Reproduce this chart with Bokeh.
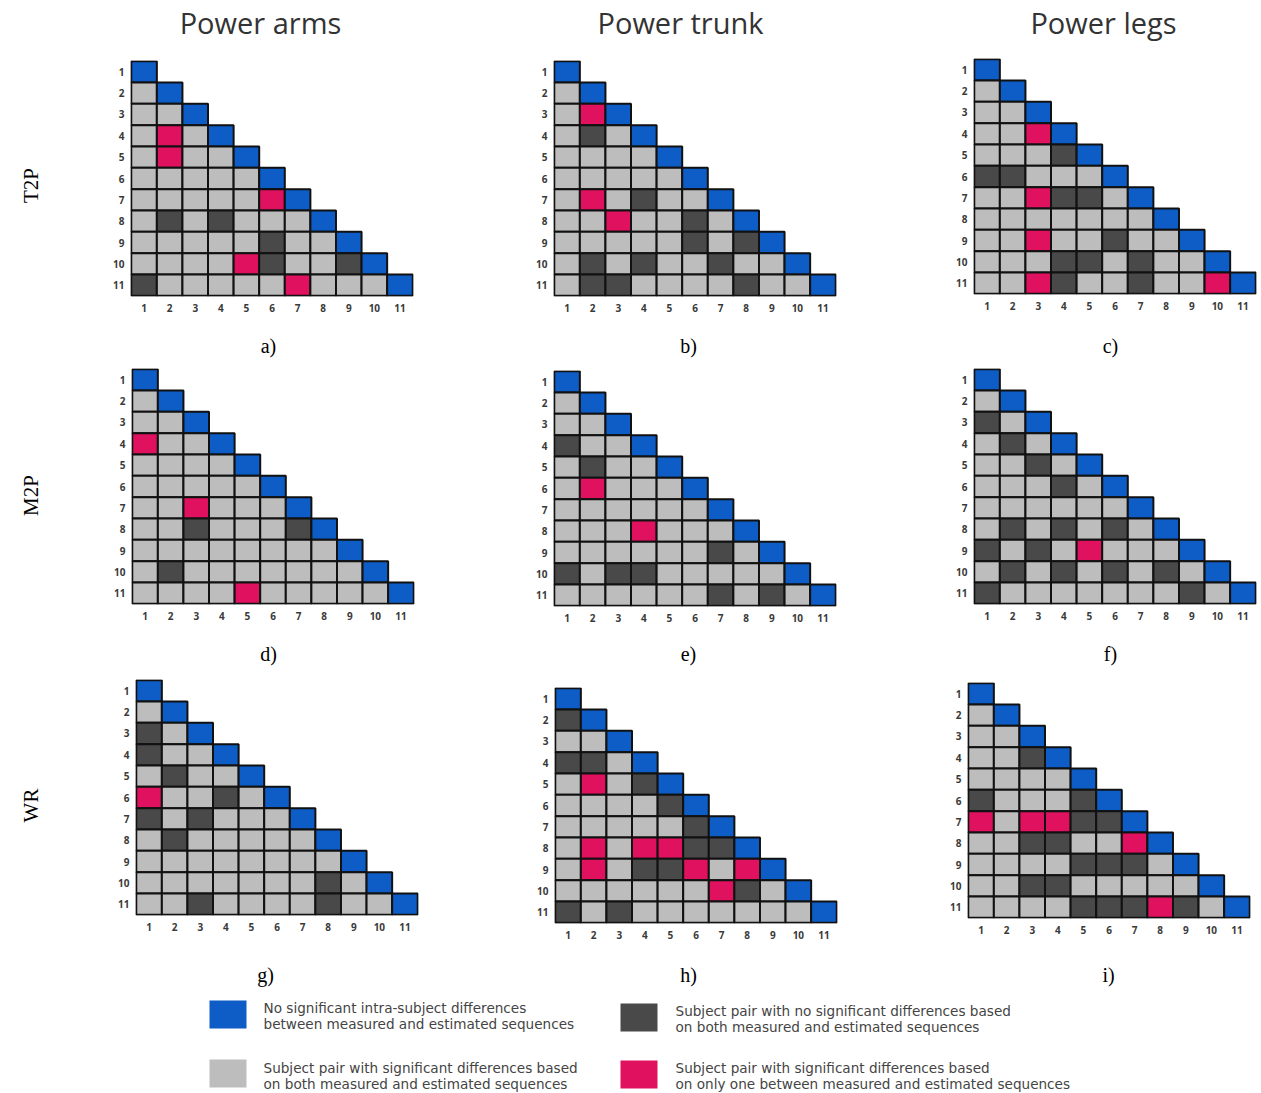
import math
from bokeh.plotting import figure
from bokeh.layouts import column, row
from bokeh.models import Range1d, FixedTicker, ColumnDataSource, Spacer
from bokeh.core.properties import value
from bokeh.embed import file_html
from bokeh.resources import INLINE

# ---------------- data ----------------
SUBJECTS = list(range(1, 12))
COLUMN_TITLES = ["Power arms", "Power trunk", "Power legs"]
ROW_LABELS = ["T2P", "M2P", "WR"]
PANEL_LETTERS = ["a)", "b)", "c)", "d)", "e)", "f)", "g)", "h)", "i)"]

# lower-triangle cell classes, rows 2..11, columns 1..row-1
# L = significant on both, D = no significant on both, R = significant on only one
# diagonal cells are always "B" (no significant intra-subject differences)
PANEL_A = ["L", "LL", "LRL", "LRLL", "LLLLL", "LLLLLR", "LDLDLLL",
           "LLLLLDLL", "LLLLRDLLD", "DLLLLLRLLL"]
PANEL_B = ["L", "LR", "LDL", "LLLL", "LLLLL", "LRLDLL", "LLRLLDL",
           "LLLLLDLD", "LDLDLLDLL", "LDDLLLLDLL"]
PANEL_C = ["L", "LL", "LLR", "LLLD", "DDLLL", "LLRDDL", "LLLLLLL",
           "LLRLLDLL", "LLLDDLDLL", "LLRDLLDLLR"]
PANEL_D = ["L", "LL", "RLL", "LLLL", "LLLLL", "LLRLLL", "LLDLLLD",
           "LLLLLLLL", "LDLLLLLLL", "LLLLRLLLLL"]
PANEL_E = ["L", "LL", "DLL", "LDLL", "LRLLL", "LLLLLL", "LLLRLLL",
           "LLLLLLDL", "DLDDLLLLL", "LLLLLLDLDL"]
PANEL_F = ["L", "DL", "LDL", "LLDL", "LLLDL", "LLLLLL", "LDLDLDL",
           "DLDLRLLL", "LDLDLDLDL", "DLLLLLLLDL"]
PANEL_G = ["L", "DL", "DLL", "LDLL", "RLLDL", "DLDLLL", "LDLLLLL",
           "LLLLLLLL", "LLLLLLLDL", "LLDLLLLDLL"]
PANEL_H = ["D", "LL", "DDL", "LRLD", "LLLLD", "LLLLLD", "LRLRRDD",
           "LRLDDRLR", "LLLLLLRDL", "DLDLLLLLLL"]
PANEL_I = ["L", "LL", "LLD", "LLLL", "DLLLD", "RLRRDD", "LLDDLLR",
           "LLLLDDDL", "LLDDLLLLL", "LLLLDDDRDL"]
PANELS = [PANEL_A, PANEL_B, PANEL_C, PANEL_D, PANEL_E, PANEL_F,
          PANEL_G, PANEL_H, PANEL_I]

LEGEND_CODES = ["B", "D", "L", "R"]
LEGEND_TEXT = [
    ["No significant intra-subject differences",
     "between measured and estimated sequences"],
    ["Subject pair with no significant differences based",
     "on both measured and estimated sequences"],
    ["Subject pair with significant differences based",
     "on both measured and estimated sequences"],
    ["Subject pair with significant differences based",
     "on only one between measured and estimated sequences"],
]

# ---------------- styles / layout ----------------
COLORS = {"B": "#0e5cc6", "L": "#bdbdbd", "D": "#494949", "R": "#e0115e"}
TOTAL_W = 1260
FRAME_W, FRAME_H = 283, 236
TOP_B, BOT_B = 6, 22
MB_LEFT = 28
LEFTS = [[130, 553, 973], [131, 553, 973], [135, 554, 967]]
DYS = [[2, 2, 0], [0, 2, 0], [0, 8, 3]]
ROW_LABEL_Y = [133, 133, 132]     # from top of each panel row block
TITLE_H = 52
TITLE_X = [260, 680, 1103]
LETTER_H = [44, 45, 45]
LETTER_Y = [27, 25, 29]
LETTER_X = [[268, 688, 1110], [268, 688, 1110], [265, 688, 1108]]
LEGEND_H = 102

TXT = "#333333"


def pixel_fig(w, h):
    p = figure(width=w, height=h, x_range=Range1d(0, w), y_range=Range1d(0, h),
               output_backend="svg", toolbar_location=None, min_border=0)
    p.axis.visible = False
    p.grid.visible = False
    p.outline_line_color = None
    return p


def panel_fig(codes, right_border):
    xs, ys, cols = [], [], []
    for r in SUBJECTS:
        for c in SUBJECTS[:r]:
            code = "B" if c == r else codes[r - 2][c - 1]
            xs.append(c)
            ys.append(r)
            cols.append(COLORS[code])
    src = ColumnDataSource(dict(x=xs, y=ys, color=cols))
    p = figure(frame_width=FRAME_W, frame_height=FRAME_H,
               x_range=Range1d(0.47, 11.53), y_range=Range1d(11.53, 0.47),
               output_backend="svg", toolbar_location=None,
               min_border_left=MB_LEFT, min_border_top=TOP_B,
               min_border_bottom=BOT_B, min_border_right=right_border)
    p.rect(x="x", y="y", width=1, height=1, fill_color="color",
           line_color="#111111", line_width=2, source=src)
    for ax in (p.xaxis, p.yaxis):
        ax.ticker = FixedTicker(ticks=SUBJECTS)
        ax.axis_line_color = None
        ax.major_tick_line_color = None
        ax.minor_tick_line_color = None
        ax.major_label_text_font = "Open Sans"
        ax.major_label_text_font_size = "10px"
        ax.major_label_text_font_style = "bold"
        ax.major_label_text_color = "#3a3a3a"
    p.xaxis.major_label_standoff = 1
    p.yaxis.major_label_standoff = 0
    p.grid.visible = False
    p.outline_line_color = None
    return p


children = []

# titles
tp = pixel_fig(TOTAL_W, TITLE_H)
tp.text(x=TITLE_X, y=[TITLE_H - 22] * 3, text=COLUMN_TITLES,
        text_font=value("Open Sans"), text_font_size="29px", text_color=TXT,
        text_align="center", text_baseline="middle")
children.append(tp)

for ri in range(3):
    lefts = LEFTS[ri]
    dys = DYS[ri]
    block_h = max(dys) + TOP_B + FRAME_H + BOT_B
    label_w = lefts[0] - MB_LEFT
    lp = pixel_fig(label_w, block_h)
    lp.text(x=[30], y=[block_h - ROW_LABEL_Y[ri]], text=[ROW_LABELS[ri]],
            angle=math.pi / 2, text_font=value("Liberation Serif"),
            text_font_size="21px", text_color="#000000",
            text_align="center", text_baseline="middle")
    items = [column(lp, spacing=0)]
    for ci in range(3):
        if ci < 2:
            rb = (lefts[ci + 1] - MB_LEFT) - (lefts[ci] + FRAME_W)
        else:
            rb = TOTAL_W - (lefts[ci] + FRAME_W)
        f = panel_fig(PANELS[ri * 3 + ci], rb)
        parts = []
        if dys[ci] > 0:
            parts.append(Spacer(width=10, height=dys[ci]))
        parts.append(f)
        rest = max(dys) - dys[ci]
        if rest > 0:
            parts.append(Spacer(width=10, height=rest))
        items.append(column(*parts, spacing=0))
    children.append(row(*items, spacing=0))

    lh = LETTER_H[ri]
    letp = pixel_fig(TOTAL_W, lh)
    letp.text(x=LETTER_X[ri], y=[lh - LETTER_Y[ri]] * 3,
              text=PANEL_LETTERS[ri * 3: ri * 3 + 3],
              text_font=value("Liberation Serif"), text_font_size="20px",
              text_color="#000000", text_align="center", text_baseline="middle")
    children.append(letp)

# legend
lg = pixel_fig(TOTAL_W, LEGEND_H)
SW_X = [227.5, 638.5, 227.5, 638.5]
SW_Y = [24, 27, 83, 84]
TX_X = [263, 675, 263, 675]
TX_Y1 = [17, 20, 77, 77]
TX_Y2 = [33, 36, 93, 93]
lg.rect(x=SW_X, y=[LEGEND_H - v for v in SW_Y], width=37, height=28,
        fill_color=[COLORS[c] for c in LEGEND_CODES], line_color=None)
lg.text(x=TX_X + TX_X, y=[LEGEND_H - v for v in TX_Y1 + TX_Y2],
        text=[t[0] for t in LEGEND_TEXT] + [t[1] for t in LEGEND_TEXT],
        text_font=value("DejaVu Sans"), text_font_size="13.6px",
        text_color="#444444", text_align="left", text_baseline="middle")
children.append(lg)

layout = column(*children, spacing=0)
open("out.html", "w").write(file_html(layout, INLINE))
